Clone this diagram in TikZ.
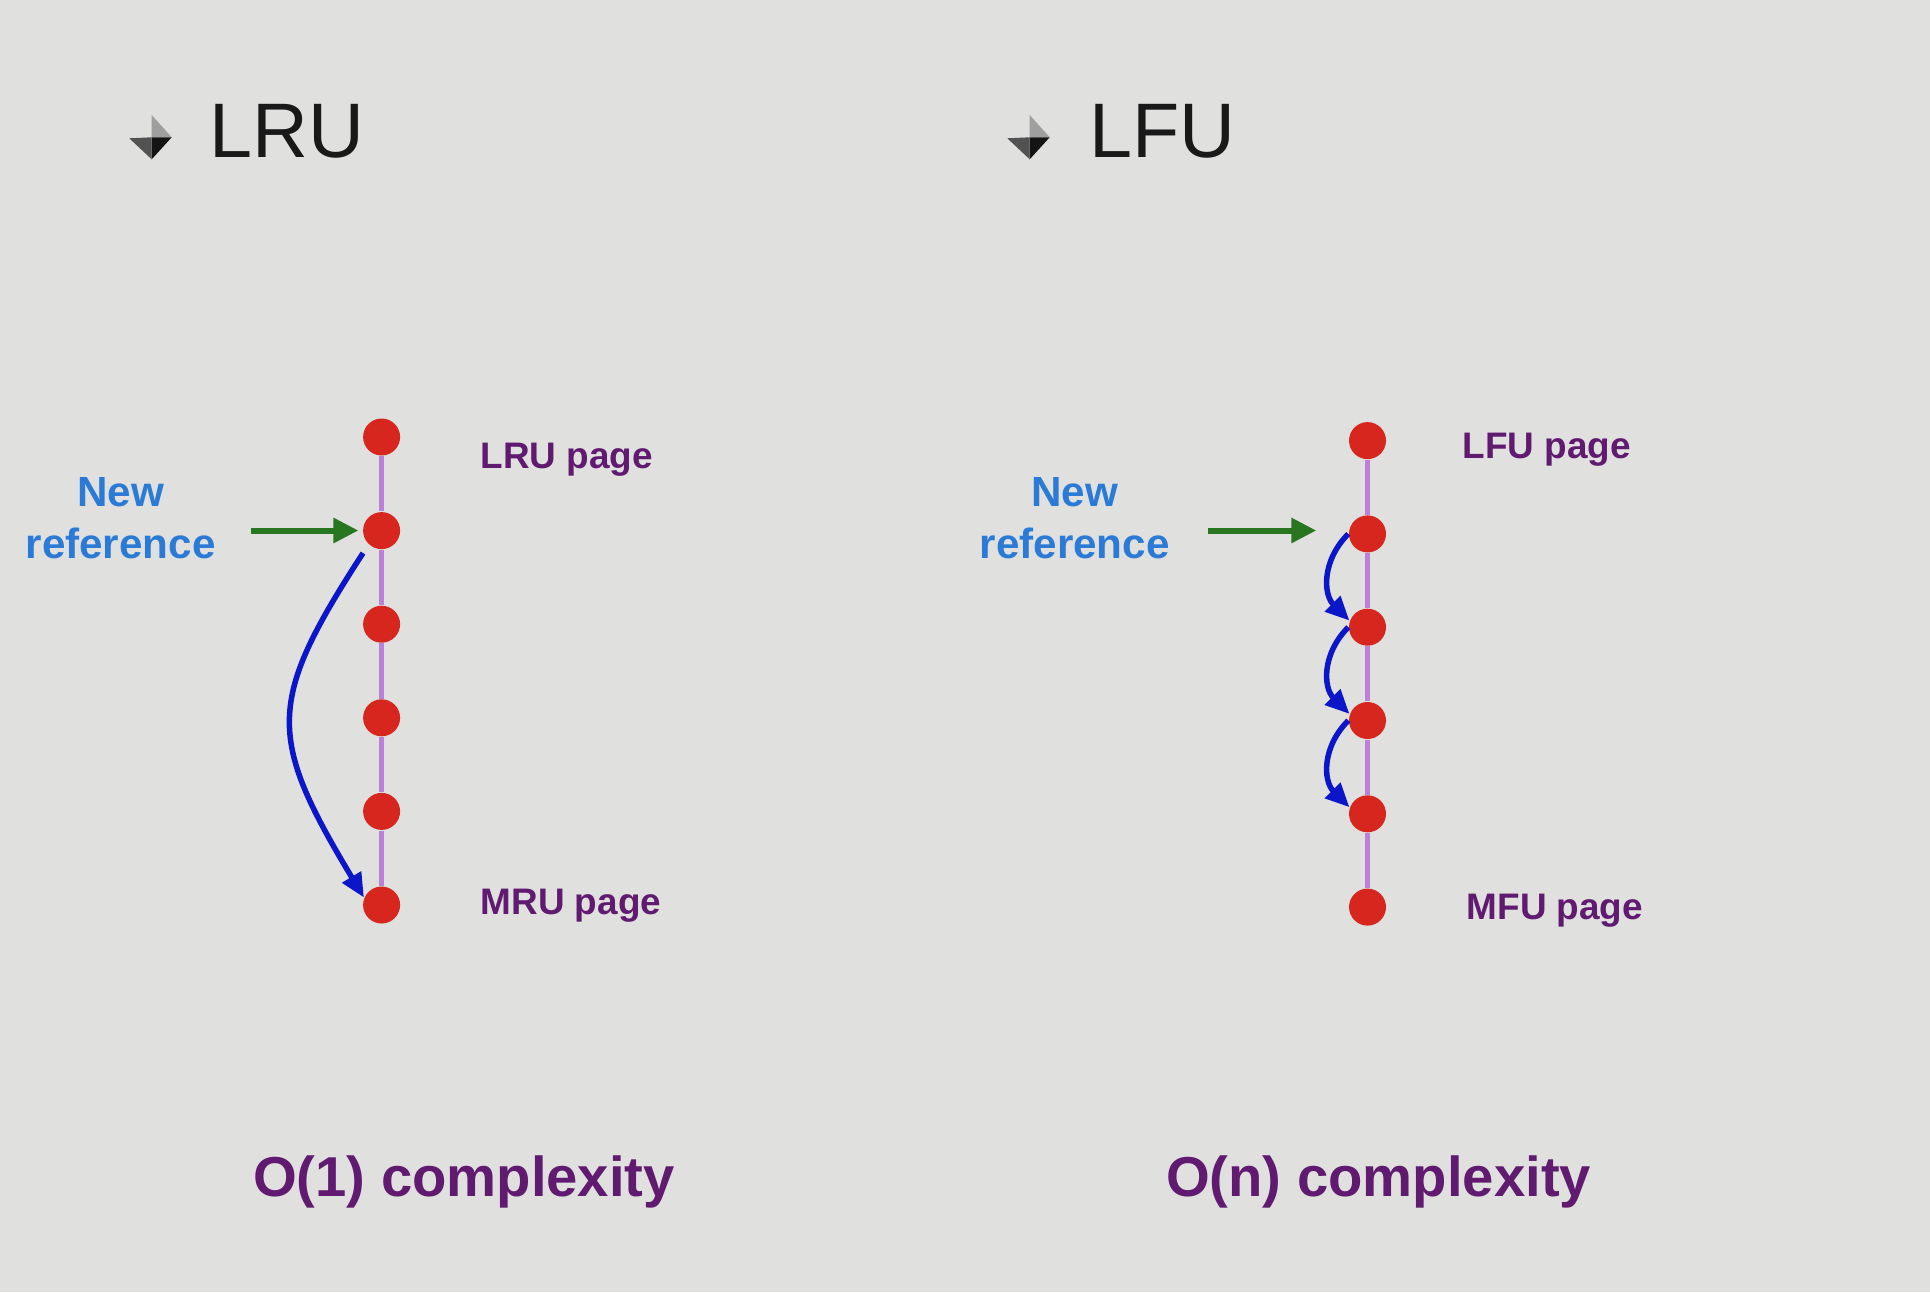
\documentclass[tikz,border=0pt]{standalone}
\usepackage{fontspec}
\setmainfont{Liberation Sans}
\usepackage{tikz}
\usetikzlibrary{arrows.meta}

\definecolor{slidebg}{RGB}{224,224,222}
\definecolor{dotred}{RGB}{214,38,30}
\definecolor{railviolet}{RGB}{188,128,216}
\definecolor{pagepurple}{RGB}{96,26,112}
\definecolor{refblue}{RGB}{42,122,214}
\definecolor{refgreen}{RGB}{40,118,32}
\definecolor{moveblue}{RGB}{10,22,200}

\begin{document}
\begin{tikzpicture}[x=0.1mm,y=0.1mm,
  every node/.style={inner sep=0pt},
  title/.style={font=\fontsize{22}{26}\selectfont,text=black!90},
  dot/.style={circle,fill=dotred,minimum size=3.7mm},
  rail/.style={draw=railviolet,line width=0.55mm},
  pagelabel/.style={font=\fontsize{10.5}{12}\selectfont\bfseries,text=pagepurple,anchor=base west},
  newref/.style={font=\fontsize{12}{14.8}\selectfont\bfseries,text=refblue,align=center},
  refarrow/.style={draw=refgreen,line width=0.6mm,-{Triangle[length=2.5mm,width=2.4mm]}},
  move/.style={draw=moveblue,line width=0.55mm,-{Triangle[length=2.4mm,width=2.1mm]}},
  cost/.style={font=\fontsize{16}{19}\selectfont\bfseries,text=pagepurple,anchor=base}]

\fill[slidebg] (0,0) rectangle (1930,-1292);
\useasboundingbox (0,0) rectangle (1930,-1292);

\foreach \bx in {0,878}{
\begin{scope}[shift={(\bx,0)}]
\fill[gray!75] (151.7,-115) -- (171.7,-137.3) -- (151.7,-137.3) -- cycle;
\fill[black!92] (151.7,-137.3) -- (171.7,-137.3) -- (151.7,-159.3) -- cycle;
\fill[black!68] (129.3,-138.3) -- (151.7,-137.3) -- (151.7,-159.3) -- cycle;
\end{scope}
}
\node[title,anchor=base west] (lrutitle) at (209,-157.6) {LRU};
\node[title,anchor=base west] (lfutitle) at (1089,-157.6) {LFU};

\foreach \i in {1,...,6}{
  \node[dot] (lru\i) at (381.6,{-437-93.6*(\i-1)}) {};
  \node[dot] (lfu\i) at (1367.5,{-440.6-93.3*(\i-1)}) {};
}
\foreach \i/\j in {1/2,2/3,3/4,4/5,5/6}{
  \draw[rail] (lru\i) -- (lru\j);
  \draw[rail] (lfu\i) -- (lfu\j);
}

\node[pagelabel] (lrutop) at (480,-468) {LRU page};
\node[pagelabel] (lrubot) at (480,-914.6) {MRU page};
\node[pagelabel] (lfutop) at (1462,-458) {LFU page};
\node[pagelabel] (lfubot) at (1466,-919.5) {MFU page};

\node[newref] (lruref) at (120.6,-518) {New\\reference};
\node[newref] (lfuref) at (1074.6,-518) {New\\reference};

\coordinate (lrufrom) at (251,-530.5);
\coordinate (lfufrom) at (1207.5,-530.5);
\draw[refarrow,shorten >=0.4mm] (lrufrom) -- (lrufrom -| lru2.west);
\draw[refarrow,shorten >=3.2mm] (lfufrom) -- (lfufrom -| lfu2.west);

\draw[move,shorten <=1mm] (lru2.-133) to[out=237,in=121,looseness=1.36] (lru6.157);
\foreach \i/\j in {2/3,3/4,4/5}
  \draw[move] (lfu\i.180) to[out=225,in=135,looseness=1.1] (lfu\j.160);

\node[cost] (lrucost) at (464,-1196.5) {O(1) complexity};
\node[cost] (lfucost) at (1378.6,-1196.5) {O(n) complexity};
\end{tikzpicture}
\end{document}
